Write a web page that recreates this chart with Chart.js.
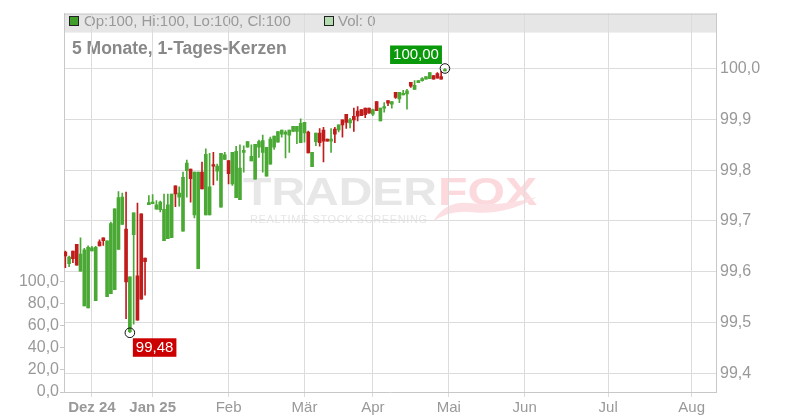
<!DOCTYPE html>
<html><head><meta charset="utf-8">
<script src="https://cdn.jsdelivr.net/npm/chart.js@4.4.1/dist/chart.umd.min.js"></script>
<style>html,body{margin:0;padding:0;background:#fff}#wrap{width:800px;height:420px}</style>
</head><body><div id="wrap"><canvas id="c" width="800" height="420"></canvas></div>
<script>
// ---- data (one candle per trading day, index = position in arrays) ----
const opens = [99.639,99.616,99.641,99.654,99.601,99.533,99.529,99.641,99.543,99.659,
99.667,99.551,99.557,99.565,99.644,99.693,99.684,99.482,99.673,99.592,
99.714,99.627,99.732,99.734,99.723,99.722,99.661,99.665,99.667,99.769,
99.747,99.680,99.799,99.802,99.712,99.606,99.796,99.712,99.712,99.810,
99.798,99.727,99.821,99.819,99.773,99.746,99.742,99.835,99.845,99.818,
99.782,99.845,99.835,99.788,99.812,99.845,99.855,99.871,99.871,99.869,
99.876,99.876,99.854,99.873,99.875,99.807,99.856,99.873,99.879,99.861,
99.857,99.881,99.879,99.899,99.910,99.893,99.906,99.916,99.919,99.922,
99.922,99.910,99.935,99.897,99.922,99.937,99.930,99.953,99.940,99.948,
99.950,99.973,99.959,99.972,99.976,99.979,99.980,99.986,99.990,99.984,
99.995];
const highs = [99.641,99.631,99.641,99.654,99.667,99.646,99.651,99.650,99.650,99.663,
99.667,99.661,99.698,99.724,99.758,99.755,99.757,99.590,99.716,99.735,
99.714,99.627,99.750,99.752,99.740,99.739,99.753,99.753,99.753,99.769,
99.767,99.796,99.820,99.802,99.796,99.796,99.816,99.842,99.833,99.835,
99.812,99.833,99.835,99.819,99.835,99.847,99.850,99.848,99.856,99.850,
99.851,99.859,99.869,99.845,99.865,99.867,99.876,99.879,99.878,99.879,
99.886,99.886,99.901,99.894,99.877,99.835,99.873,99.882,99.884,99.861,
99.882,99.884,99.889,99.899,99.910,99.902,99.922,99.925,99.919,99.922,
99.922,99.920,99.935,99.922,99.933,99.937,99.935,99.953,99.953,99.957,
99.959,99.973,99.976,99.976,99.982,99.984,99.992,99.986,99.992,99.995,
100.000];
const lows = [99.608,99.610,99.618,99.613,99.601,99.533,99.529,99.641,99.543,99.651,
99.652,99.551,99.557,99.565,99.644,99.693,99.508,99.480,99.497,99.505,
99.546,99.554,99.732,99.734,99.723,99.718,99.661,99.665,99.667,99.728,
99.729,99.680,99.747,99.737,99.706,99.606,99.763,99.712,99.712,99.771,
99.780,99.727,99.821,99.773,99.770,99.746,99.742,99.796,99.845,99.818,
99.782,99.825,99.796,99.788,99.812,99.841,99.855,99.865,99.824,99.835,
99.876,99.852,99.854,99.855,99.834,99.807,99.848,99.847,99.816,99.857,
99.835,99.854,99.875,99.865,99.882,99.883,99.876,99.897,99.907,99.903,
99.912,99.907,99.917,99.897,99.914,99.927,99.922,99.941,99.933,99.948,
99.920,99.963,99.959,99.972,99.975,99.979,99.980,99.979,99.981,99.979,
99.995];
const closes = [99.631,99.629,99.626,99.613,99.635,99.643,99.648,99.647,99.648,99.651,
99.661,99.661,99.695,99.724,99.746,99.747,99.580,99.590,99.716,99.505,
99.546,99.620,99.736,99.736,99.732,99.737,99.723,99.732,99.753,99.753,
99.755,99.786,99.814,99.783,99.796,99.796,99.763,99.831,99.767,99.808,
99.808,99.833,99.830,99.793,99.835,99.837,99.804,99.839,99.856,99.827,
99.851,99.856,99.858,99.845,99.861,99.867,99.876,99.879,99.875,99.879,
99.886,99.886,99.892,99.894,99.834,99.835,99.873,99.854,99.857,99.857,
99.861,99.871,99.889,99.889,99.894,99.899,99.899,99.906,99.907,99.909,
99.912,99.919,99.917,99.922,99.924,99.932,99.935,99.943,99.953,99.951,
99.956,99.965,99.967,99.976,99.980,99.984,99.992,99.979,99.981,99.979,
99.997];

// x axis: trading-day slots, month ticks
const monthLabels = ['Dez 24','Jan 25','Feb','Mär','Apr','Mai','Jun','Jul','Aug'];
const monthTickIdx = [7,23,43,63,81,101,121,143,165];
const yearTick = [true,true,false,false,false,false,false,false,false];
const xRange = [-0.35, 171.4];

// price axis (right)
const priceTicks = [99.4,99.5,99.6,99.7,99.8,99.9,100.0];
const priceTickLabels = ['99,4','99,5','99,6','99,7','99,8','99,9','100,0'];
const priceRange = [99.3635, 100.108];

// volume axis (left)
const volTicks = [0,20,40,60,80,100];
const volTickLabels = ['0,0','20,0','40,0','60,0','80,0','100,0'];
const volRange = [0, 343.2];

const headerText = 'Op:100, Hi:100, Lo:100, Cl:100';
const volText = 'Vol: 0';
const titleText = '5 Monate, 1-Tages-Kerzen';

const GREEN = '#4aa934', RED = '#c01c1c';
const FONT = '"Liberation Sans", Arial, sans-serif';
Chart.defaults.font.family = FONT;

const up = i => closes[i] >= opens[i];
const colorFn = c => up(c.dataIndex) ? GREEN : RED;
const wickData = opens.map((_, i) => ({x: i, y: [lows[i], highs[i]]}));
const bodyData = opens.map((_, i) => ({x: i, y: [opens[i], closes[i]]}));

const fmt2 = v => v.toFixed(2).replace('.', ',');

const deco = {
  id: 'deco',
  beforeDraw(chart) {
    const {ctx, chartArea: a} = chart;
    ctx.save();
    // header band
    ctx.fillStyle = '#e6e6e6';
    ctx.fillRect(a.left, a.top, a.right - a.left, 19);
    // watermark
    ctx.textBaseline = 'alphabetic';
    ctx.font = 'bold 38px ' + FONT;
    const drawFit = (txt, x, base, w, col) => {
      const m = ctx.measureText(txt).width;
      ctx.save(); ctx.translate(x, base); ctx.scale(w / m, 1);
      ctx.fillStyle = col; ctx.fillText(txt, 0, 0); ctx.restore();
    };
    drawFit('TRADER', 243, 205, 194, '#e7e7e7');
    drawFit('FOX', 438, 205, 99, '#fcd9dc');
    // tail swoosh
    ctx.fillStyle = '#fcdfe2';
    ctx.beginPath();
    ctx.moveTo(433, 222);
    ctx.quadraticCurveTo(445, 200, 470, 203);
    ctx.quadraticCurveTo(500, 207, 537, 197);
    ctx.quadraticCurveTo(505, 216, 470, 212);
    ctx.quadraticCurveTo(448, 210, 433, 222);
    ctx.fill();
    ctx.font = '11px ' + FONT;
    const sub = 'REALTIME STOCK SCREENING';
    const sw = ctx.measureText(sub).width;
    ctx.letterSpacing = ((177 - sw) / (sub.length - 1)).toFixed(2) + 'px';
    ctx.fillStyle = '#e6e6e6';
    ctx.fillText(sub, 250, 223);
    ctx.letterSpacing = '0px';
    // legend row
    ctx.font = '15px ' + FONT;
    ctx.textBaseline = 'middle';
    ctx.lineWidth = 1; ctx.strokeStyle = '#222';
    ctx.fillStyle = '#3f9f2a';
    ctx.fillRect(69.5, 16.5, 9, 9); ctx.strokeRect(69.5, 16.5, 9, 9);
    ctx.fillStyle = '#999'; ctx.fillText(headerText, 84, 21.5);
    ctx.fillStyle = '#b4dcb0';
    ctx.fillRect(324.5, 16.5, 9, 9); ctx.strokeRect(324.5, 16.5, 9, 9);
    ctx.fillStyle = '#999'; ctx.fillText(volText, 338, 21.5);
    // title
    ctx.font = 'bold 17.5px ' + FONT;
    ctx.fillStyle = '#888';
    ctx.textBaseline = 'alphabetic';
    ctx.fillText(titleText, 72, 53.5);
    ctx.restore();
  },
  afterDraw(chart) {
    const {ctx, chartArea: a} = chart;
    ctx.save();
    ctx.strokeStyle = '#c8c8c8'; ctx.lineWidth = 1;
    ctx.beginPath(); ctx.moveTo(a.left, a.top + 0.5); ctx.lineTo(a.right, a.top + 0.5); ctx.stroke();
    const xs = chart.scales.x, ys = chart.scales.y;
    // extremes
    let hi = 0, lo = 0;
    highs.forEach((v, i) => { if (v > highs[hi]) hi = i; });
    lows.forEach((v, i) => { if (v < lows[lo]) lo = i; });
    ctx.font = '15px ' + FONT;
    ctx.textBaseline = 'middle'; ctx.textAlign = 'center';
    const box = (txt, px, py, dx, dy, col) => {
      const w = ctx.measureText(txt).width + 6, h = 18.5;
      const bx = dx < 0 ? px + dx - w : px + dx;
      const by = dy < 0 ? py + dy - h : py + dy;
      ctx.fillStyle = col; ctx.fillRect(bx, by, w, h);
      ctx.fillStyle = '#fff'; ctx.fillText(txt, bx + w / 2, by + h / 2 + 0.5);
      ctx.beginPath(); ctx.arc(px, py, 4.8, 0, Math.PI * 2);
      ctx.strokeStyle = '#111'; ctx.lineWidth = 1; ctx.stroke();
    };
    box(fmt2(highs[hi]), xs.getPixelForValue(hi), ys.getPixelForValue(highs[hi]), -3, -4.5, '#0a990a');
    box(fmt2(lows[lo]), xs.getPixelForValue(lo), ys.getPixelForValue(lows[lo]), 3, 5.5, '#cc0000');
    ctx.restore();
  }
};

new Chart(document.getElementById('c'), {
  type: 'bar',
  data: {
    datasets: [
      {label: 'body', data: bodyData, backgroundColor: colorFn, barThickness: 3, minBarLength: 1.5,
       grouped: false, order: 0, xAxisID: 'x', yAxisID: 'y', borderWidth: 0},
      {label: 'wick', data: wickData, backgroundColor: colorFn, barThickness: 1,
       grouped: false, order: 1, xAxisID: 'x', yAxisID: 'y', borderWidth: 0}
    ]
  },
  options: {
    responsive: false, animation: false, devicePixelRatio: 1,
    layout: {padding: {top: 11, left: 0, right: 0, bottom: 0}},
    plugins: {legend: {display: false}, tooltip: {enabled: false}},
    scales: {
      x: {
        type: 'linear', min: xRange[0], max: xRange[1], offset: false,
        afterBuildTicks: s => { s.ticks = monthTickIdx.map(v => ({value: v})); },
        afterFit: s => { s.height = 28; },
        ticks: {
          autoSkip: false, maxRotation: 0, color: '#999', padding: 2,
          font: c => ({family: FONT, size: 15, weight: yearTick[c.index] ? 'bold' : 'normal'}),
          callback: (v, i) => monthLabels[i]
        },
        grid: {color: '#dcdcdc', tickLength: 5, drawOnChartArea: true, offset: false},
        border: {color: '#c8c8c8'}
      },
      y: {
        position: 'right', min: priceRange[0], max: priceRange[1],
        afterBuildTicks: s => { s.ticks = priceTicks.map(v => ({value: v})); },
        afterFit: s => { s.width = 84; },
        ticks: {color: '#999', padding: 4, font: {size: 16}, callback: (v, i) => priceTickLabels[i]},
        grid: {color: '#dcdcdc', tickLength: 0},
        border: {color: '#c8c8c8'}
      },
      yv: {
        position: 'left', min: volRange[0], max: volRange[1],
        afterBuildTicks: s => { s.ticks = volTicks.map(v => ({value: v})); },
        afterFit: s => { s.width = 64; },
        ticks: {color: '#999', padding: 1, font: {size: 16}, callback: (v, i) => volTickLabels[i]},
        grid: {drawOnChartArea: false, tickLength: 4, color: '#c8c8c8'},
        border: {color: '#c8c8c8'}
      }
    }
  },
  plugins: [deco]
});
</script></body></html>
